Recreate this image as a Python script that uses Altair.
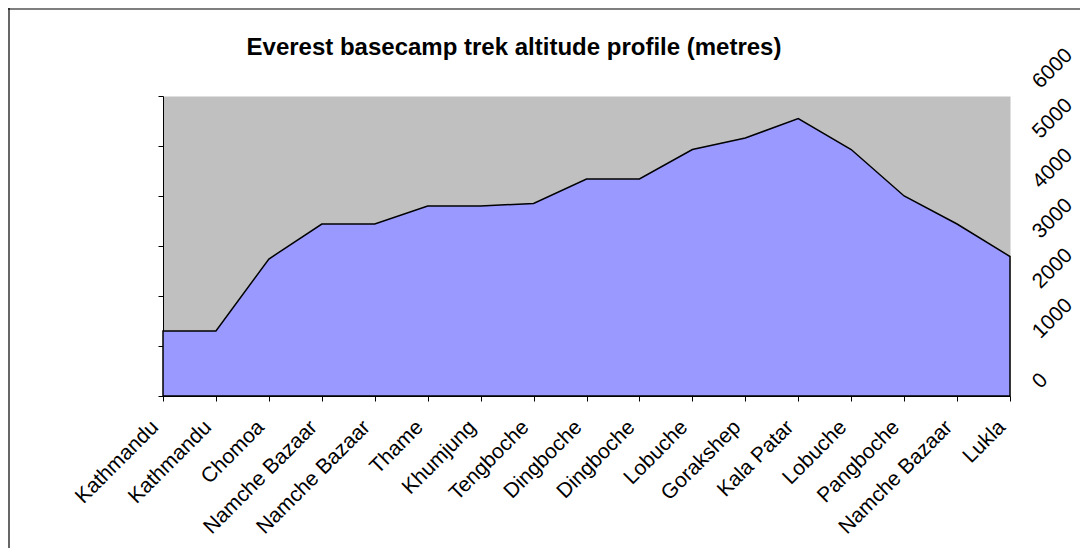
import json
import altair as alt
import pandas as pd

stops = ["Kathmandu", "Kathmandu", "Chomoa", "Namche Bazaar", "Namche Bazaar",
         "Thame", "Khumjung", "Tengboche", "Dingboche", "Dingboche", "Lobuche",
         "Gorakshep", "Kala Patar", "Lobuche", "Pangboche", "Namche Bazaar", "Lukla"]
altitude_m = [1300, 1300, 2740, 3440, 3440, 3800, 3800, 3850, 4340, 4340, 4930,
              5160, 5550, 4930, 4000, 3440, 2790]
y_ticks = [0, 1000, 2000, 3000, 4000, 5000, 6000]
title_text = "Everest basecamp trek altitude profile (metres)"

FONT = "Liberation Sans"

df = pd.DataFrame({"idx": list(range(len(stops))), "stop": stops, "alt": altitude_m})
label_expr = json.dumps(stops) + "[datum.value]"

x_scale = alt.Scale(domain=[0, len(stops) - 1], nice=False, zero=False)
x_enc = alt.X(
    "idx:Q",
    scale=x_scale,
    axis=alt.Axis(
        title=None, values=list(range(len(stops))), labelExpr=label_expr,
        labelAngle=315, labelAlign="right", labelBaseline="alphabetic",
        labelPadding=27, labelOffset=-4, labelFontSize=21, labelFont=FONT,
        labelColor="black", labelOverlap=False, labelFlush=False,
        tickColor="black", tickSize=5, domainColor="black", grid=False,
    ),
)

y_scale = alt.Scale(domain=[0, 6000], nice=False)

area = alt.Chart(df).mark_area(
    color="#9999FF", stroke="black", strokeWidth=1.5, line=False
).encode(
    x=x_enc,
    y=alt.Y(
        "alt:Q", scale=y_scale,
        axis=alt.Axis(
            orient="right", title=None, values=y_ticks, format="d",
            ticks=False, domain=False,
            labelAngle=315, labelAlign="left", labelBaseline="alphabetic",
            labelPadding=30, labelOffset=-7, labelFontSize=21, labelFont=FONT,
            labelColor="black", grid=False, labelOverlap=False,
        ),
    ),
)

left_axis = alt.Chart(df).mark_area(opacity=0).encode(
    x=x_enc,
    y=alt.Y(
        "alt:Q", scale=y_scale,
        axis=alt.Axis(
            orient="left", title=None, values=y_ticks, labels=False, tickSize=5,
            tickColor="black", domainColor="black", grid=False,
        ),
    ),
)

title_mark = alt.Chart(alt.Data(values=[{}])).mark_text(
    text=title_text, font=FONT, fontSize=24, fontWeight="bold",
    align="center", baseline="alphabetic", color="black",
).encode(x=alt.value(351), y=alt.value(-41))

frame_v = alt.Chart(alt.Data(values=[{}])).mark_rule(color="black", strokeWidth=1.2).encode(
    x=alt.value(-154), x2=alt.value(-154), y=alt.value(-88), y2=alt.value(470)
)
frame_h = alt.Chart(alt.Data(values=[{}])).mark_rule(color="black", strokeWidth=1.2).encode(
    x=alt.value(-155), x2=alt.value(930), y=alt.value(-87), y2=alt.value(-87)
)

chart = alt.layer(area, left_axis, title_mark, frame_v, frame_h).resolve_axis(
    y="independent"
).properties(
    width=847, height=300,
    autosize=alt.AutoSizeParams(type="none"),
    padding={"left": 155, "top": 88, "right": 70, "bottom": 152},
).configure_view(
    fill="#C0C0C0", stroke="transparent"
)

chart.save("out.html", embed_options={"renderer": "svg", "actions": False})
